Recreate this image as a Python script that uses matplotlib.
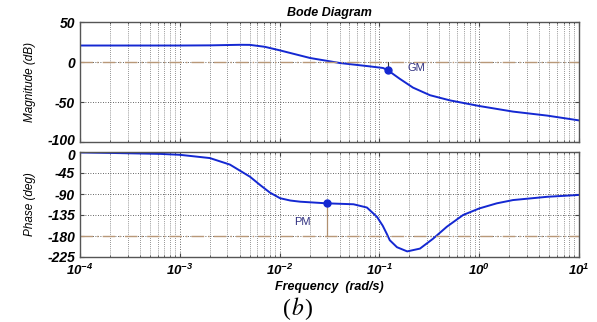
import matplotlib
matplotlib.use("Agg")
import matplotlib.pyplot as plt
import numpy as np
from matplotlib.ticker import LogLocator, NullFormatter, FixedLocator
from matplotlib.transforms import offset_copy

plt.rcParams['font.family'] = ['Liberation Sans', 'DejaVu Sans']
plt.rcParams['mathtext.fontset'] = 'custom'
plt.rcParams['mathtext.rm'] = 'Liberation Sans:weight=bold:slant=italic'
plt.rcParams['mathtext.it'] = 'Liberation Sans:weight=bold:slant=italic'
plt.rcParams['mathtext.bf'] = 'Liberation Sans:weight=bold:slant=italic'

# Magnitude data (dB)
mag_freq = [1e-4, 3e-4, 1e-3, 2e-3, 3e-3, 4e-3, 5.05e-3, 7.1e-3, 0.0101, 0.0202, 0.0403,
            0.0805, 0.109, 0.122, 0.16, 0.217, 0.321, 0.51, 1.0, 2.18, 4.8, 10.0]
mag_db = [20.6, 20.6, 20.6, 20.8, 21.2, 21.5, 21.4, 19.0, 14.5, 5.0, -1.3,
          -5.5, -7.5, -10.5, -21.0, -32.0, -41.5, -48.0, -55.0, -62.0, -67.0, -73.0]

# Phase data (deg)
ph_freq = [1e-4, 2e-4, 6.3e-4, 1e-3, 2e-3, 3.18e-3, 5.05e-3, 6.4e-3, 8.0e-3, 0.0101, 0.0128,
           0.0161, 0.0297, 0.055, 0.075, 0.0946, 0.108, 0.119, 0.127, 0.15, 0.19, 0.255,
           0.344, 0.475, 0.69, 1.0, 1.5, 2.18, 4.8, 10.0]
ph_deg = [-1, -2, -4, -6, -13, -27, -53, -71, -87, -99, -104,
          -106.5, -110, -112, -119, -139, -158, -176, -189, -204, -213, -207,
          -186, -160, -135, -121, -110, -103, -96, -92]

# Margin markers
gm_freq, gm_db = 0.122, -10.5
pm_freq, pm_deg = 0.0297, -110.0

mag_ticks = [50, 0, -50, -100]
ph_ticks = [0, -45, -90, -135, -180, -225]
x_ticks = [1e-4, 1e-3, 1e-2, 1e-1, 1e0, 1e1]
x_labels = [r'$10^{-4}$', r'$10^{-3}$', r'$10^{-2}$', r'$10^{-1}$', r'$10^{0}$', r'$10^{1}$']

W, H = 597, 322
fig = plt.figure(figsize=(W / 100, H / 100), dpi=100)
left = 80 / W
width = (579 - 80) / W
ax1 = fig.add_axes([left, 1 - 142 / H, width, 120 / H])
ax2 = fig.add_axes([left, 1 - 257 / H, width, 105 / H])

curve_c = '#1428D2'
ref_c = '#B89878'
tick_font = dict(fontsize=10, fontweight='bold', fontstyle='italic')

for ax in (ax1, ax2):
    ax.set_xscale('log')
    ax.set_xlim(1e-4, 10)
    ax.xaxis.set_major_locator(FixedLocator(x_ticks))
    ax.xaxis.set_minor_locator(LogLocator(base=10, subs=np.arange(2, 10), numticks=100))
    ax.xaxis.set_minor_formatter(NullFormatter())
    ax.grid(True, which='major', axis='both', color='#333333', linestyle=(0, (1, 2)), linewidth=0.6)
    ax.grid(True, which='minor', axis='x', color='#333333', linestyle=(0, (1, 2)), linewidth=0.5)
    ax.tick_params(which='both', direction='in', top=True, right=True, length=3, color='#444444')
    ax.tick_params(which='minor', length=1.5)
    for s in ax.spines.values():
        s.set_color('#555555')
        s.set_linewidth(1.0)

# Magnitude
ax1.plot(mag_freq, mag_db, color=curve_c, linewidth=1.4)
ax1.axhline(0, color=ref_c, linestyle='-.', linewidth=1.0, dashes=(9, 3, 1, 3))
ax1.plot([gm_freq, gm_freq], [0, gm_db], color='#333333', linewidth=0.8)
ax1.plot([gm_freq], [gm_db], 'o', color=curve_c, markersize=5)
ax1.text(0.19, -8, 'GM', color='#303080', fontsize=8, va='center', ha='left')
ax1.set_ylim(-100, 50)
ax1.yaxis.set_major_locator(FixedLocator(mag_ticks))
ax1.set_yticklabels([str(t) for t in mag_ticks], **tick_font)
lbl = ax1.get_yticklabels()[-1]
lbl.set_transform(offset_copy(lbl.get_transform(), fig=fig, x=0, y=3, units='dots'))
ax1.xaxis.set_major_formatter(NullFormatter())
ax1.set_ylabel('Magnitude (dB)', fontsize=8.5, fontstyle='italic', labelpad=8)
ax1.set_title('Bode Diagram', fontsize=9, fontweight='bold', fontstyle='italic', pad=4)

# Phase
ax2.plot(ph_freq, ph_deg, color=curve_c, linewidth=1.4)
ax2.axhline(-180, color=ref_c, linestyle='-.', linewidth=1.0, dashes=(9, 3, 1, 3))
ax2.plot([pm_freq, pm_freq], [-180, pm_deg], color='#B09070', linewidth=0.9)
ax2.plot([pm_freq], [pm_deg], 'o', color=curve_c, markersize=5)
ax2.text(0.0141, -149, 'PM', color='#303080', fontsize=8, va='center', ha='left')
ax2.set_ylim(-225, 0)
ax2.yaxis.set_major_locator(FixedLocator(ph_ticks))
ax2.set_yticklabels([str(t) for t in ph_ticks], **tick_font)
lbl = ax2.get_yticklabels()[0]
lbl.set_transform(offset_copy(lbl.get_transform(), fig=fig, x=0, y=-3, units='dots'))
ax2.set_xticks(x_ticks, labels=x_labels, fontsize=9.5)
ax2.tick_params(axis='x', which='major', pad=4)
ax2.set_ylabel('Phase (deg)', fontsize=8.5, fontstyle='italic', labelpad=8)
ax2.set_xlabel('Frequency  (rad/s)', fontsize=9, fontweight='bold', fontstyle='italic', labelpad=2)

yb = 1 - 309 / H
fig.text(0.488, yb, '(', fontsize=17, family='Liberation Serif', ha='right', va='center')
fig.text(0.488, yb, r'$b$', fontsize=17, ha='left', va='center', math_fontfamily='stix')
fig.text(0.488 + 0.021, yb, ')', fontsize=17, family='Liberation Serif', ha='left', va='center')

fig.savefig('out.png', dpi=100)
